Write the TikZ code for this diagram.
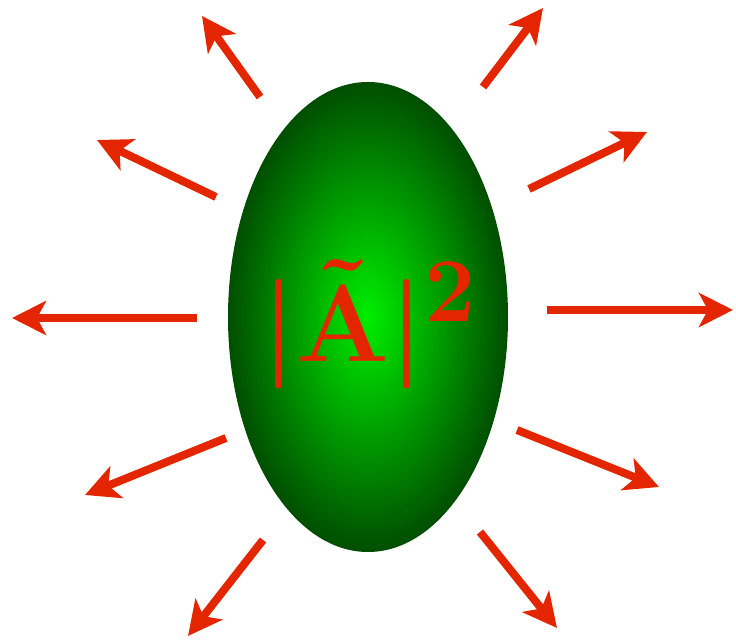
\documentclass[tikz,border=0pt]{standalone}
\usepackage{amsmath,amssymb}
\usepackage{tikz}
\usetikzlibrary{arrows.meta,calc,positioning}
\definecolor{raysred}{RGB}{228,38,0}
\definecolor{blobin}{RGB}{0,238,0}
\definecolor{blobout}{RGB}{0,78,0}
\newcommand{\ampsq}{\boldmath$\lvert\tilde{\mathbf{A}}\rvert^{2}$}

\begin{document}
\begin{tikzpicture}[x=1pt,y=1pt,>={Stealth[length=34pt,width=34pt,inset=9pt]}]
\useasboundingbox (0,0) rectangle (736,642);
\coordinate (O) at (368,325);
% the blob
\shade[inner color=blobin,outer color=blobout] (O) ellipse [x radius=140,y radius=235];
\node[text=raysred] (amp) at (370,318) {\scalebox{4.4}{\Huge\ampsq}};
% rays: start (s) -> tip (t)
\foreach \n/\sx/\sy/\tx/\ty in {1/260/545/202/626,2/483/555/543/634,3/216/445/97/502,4/529/453/647/510,5/197/324/12/324,6/547/332/733/332,7/226/204/85/147,8/517/212/659/155,9/263/102/188/6,10/480/110/557/14}{
\coordinate (s\n) at (\sx,\sy); \coordinate (t\n) at (\tx,\ty);
\draw[->,raysred,line width=8pt] (s\n)--(t\n);}
\end{tikzpicture}
\end{document}
